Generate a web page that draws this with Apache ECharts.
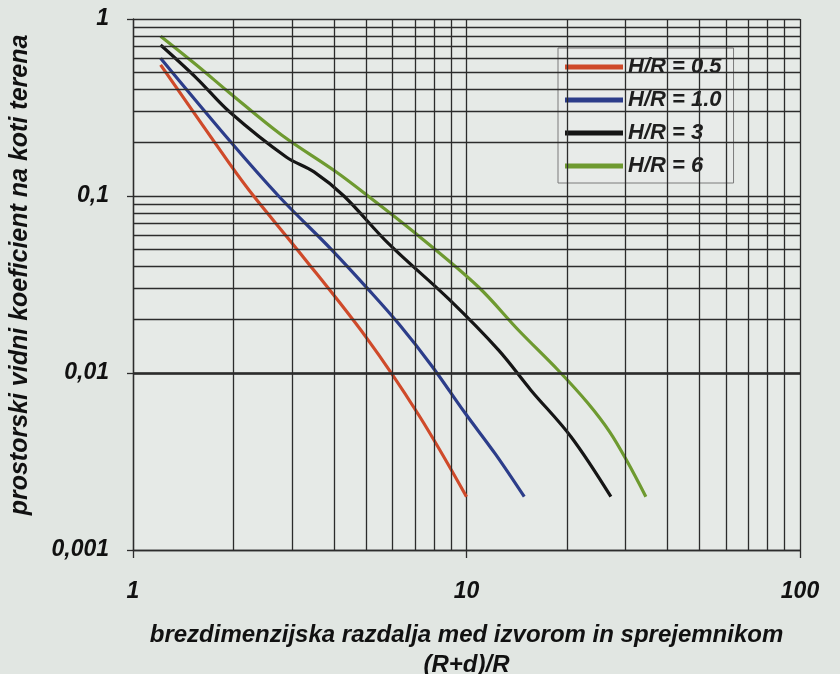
<!DOCTYPE html>
<html>
<head>
<meta charset="utf-8">
<script src="https://cdn.jsdelivr.net/npm/echarts@6/dist/echarts.min.js"></script>
<style>
  html, body { margin: 0; padding: 0; background: #e1e6e2; }
  #chart { width: 840px; height: 674px; }
</style>
</head>
<body>
<div id="chart"></div>
<script>
// ---- data ----
const SERIES_NAMES = ['H/R = 0.5', 'H/R = 1.0', 'H/R = 3', 'H/R = 6'];
const SERIES_COLORS = ['#cf4a2a', '#2c3d8a', '#151515', '#6e9a30'];

const RED_X = [1.21, 1.95, 2.3, 3.15, 4.99, 7.19, 10];
const RED_Y = [0.55, 0.152, 0.1, 0.0483, 0.016, 0.00579, 0.002];

const BLUE_X = [1.21, 1.95, 2.75, 3.95, 5.10, 6.27, 7.86, 9.9, 12.2, 14.9];
const BLUE_Y = [0.60, 0.205, 0.0987, 0.0495, 0.0294, 0.0189, 0.011, 0.00594, 0.00349, 0.002];

const BLACK_X = [1.21, 1.55, 1.95, 2.88, 3.49, 4.29, 5.85, 8.84, 12.46, 15.6, 20.6, 27.1];
const BLACK_Y = [0.713, 0.464, 0.298, 0.166, 0.137, 0.1, 0.0536, 0.0262, 0.0135, 0.0080, 0.00435, 0.002];

const GREEN_X = [1.21, 1.55, 1.95, 2.79, 4.06, 5.10, 7.19, 10.86, 14.3, 18.8, 23.1, 26.9, 30.4, 34.5];
const GREEN_Y = [0.80, 0.55, 0.382, 0.221, 0.137, 0.099, 0.0594, 0.0306, 0.0175, 0.0104, 0.00677, 0.00464, 0.00314, 0.002];

const X_TICKS = [1, 10, 100];
const X_TICK_LABELS = ['1', '10', '100'];
const Y_TICKS = [0.001, 0.01, 0.1, 1];
const Y_TICK_LABELS = ['0,001', '0,01', '0,1', '1'];
const X_MINOR = [2, 3, 4, 5, 6, 7, 8, 9, 20, 30, 40, 50, 60, 70, 80, 90];
const Y_MINOR = [0.002, 0.003, 0.004, 0.005, 0.006, 0.007, 0.008, 0.009,
                 0.02, 0.03, 0.04, 0.05, 0.06, 0.07, 0.08, 0.09,
                 0.2, 0.3, 0.4, 0.5, 0.6, 0.7, 0.8, 0.9];

const X_NAME = 'brezdimenzijska razdalja med izvorom in sprejemnikom\n(R+d)/R';
const Y_NAME = 'prostorski vidni koeficient na koti terena';

// ---- build ----
const FONT = "'Liberation Sans', Arial, sans-serif";
function pairs(xs, ys) { return xs.map((x, i) => [x, ys[i]]); }
function labelFor(ticks, labels) {
  return function (v) {
    const lv = Math.log10(v);
    for (let i = 0; i < ticks.length; i++) {
      if (Math.abs(Math.log10(ticks[i]) - lv) < 1e-6) return labels[i];
    }
    return '';
  };
}
const curves = [pairs(RED_X, RED_Y), pairs(BLUE_X, BLUE_Y), pairs(BLACK_X, BLACK_Y), pairs(GREEN_X, GREEN_Y)];

const gridLineStyle = { color: '#2c2c2c', width: 1.3, type: 'solid' };

const series = [{
  type: 'line',
  name: '_grid',
  data: [],
  silent: true,
  z: 1,
  markLine: {
    silent: true,
    symbol: ['none', 'none'],
    label: { show: false },
    lineStyle: gridLineStyle,
    emphasis: { disabled: true },
    animation: false,
    data: X_MINOR.map(v => ({ xAxis: v })).concat(Y_MINOR.map(v => ({ yAxis: v })))
  }
}].concat(curves.map((d, i) => ({
  type: 'line',
  name: SERIES_NAMES[i],
  data: d,
  showSymbol: false,
  symbol: 'none',
  smooth: 0.35,
  z: 3,
  lineStyle: { color: SERIES_COLORS[i], width: 3.2 },
  itemStyle: { color: SERIES_COLORS[i] }
})));

const chart = echarts.init(document.getElementById('chart'), null, { renderer: 'canvas' });
chart.setOption({
  animation: false,
  backgroundColor: '#e1e6e2',
  grid: {
    left: 133, top: 19, right: 40, bottom: 124,
    outerBoundsMode: 'none',
    containLabel: false,
    show: true, backgroundColor: '#e6eae7', borderWidth: 0
  },
  graphic: [{
    type: 'text',
    x: 20, y: 275,
    rotation: Math.PI / 2,
    silent: true,
    style: {
      text: Y_NAME,
      textAlign: 'center',
      textVerticalAlign: 'middle',
      font: "italic bold 25px 'Liberation Sans', Arial, sans-serif",
      fill: '#111'
    }
  }],
  legend: {
    data: SERIES_NAMES,
    orient: 'vertical',
    left: 558, top: 48,
    backgroundColor: '#e8ebe9',
    borderColor: '#7a7a7a',
    borderWidth: 1,
    padding: [8, 12, 6, 7],
    itemWidth: 58,
    itemHeight: 5,
    itemGap: 11,
    icon: 'rect',
    selectedMode: false,
    textStyle: { fontFamily: FONT, fontSize: 22, fontWeight: 'bold', fontStyle: 'italic', color: '#1e1e1e', lineHeight: 22 }
  },
  xAxis: {
    type: 'log', logBase: 10, min: 1, max: 100,
    name: X_NAME,
    nameLocation: 'middle',
    nameGap: 70,
    nameTextStyle: { fontFamily: FONT, fontSize: 24, fontWeight: 'bold', fontStyle: 'italic', color: '#111', lineHeight: 30 },
    axisLine: { show: true, lineStyle: { color: '#2c2c2c', width: 1.3 } },
    axisTick: { show: true, length: 8, lineStyle: { color: '#2c2c2c', width: 1.3 } },
    axisLabel: {
      margin: 30, fontFamily: FONT, fontSize: 23, fontWeight: 'bold', fontStyle: 'italic', color: '#111',
      formatter: labelFor(X_TICKS, X_TICK_LABELS)
    },
    splitLine: { show: true, lineStyle: gridLineStyle },
    minorTick: { show: false }, minorSplitLine: { show: false }
  },
  yAxis: {
    type: 'log', logBase: 10, min: 0.001, max: 1,
    axisLine: { show: true, lineStyle: { color: '#2c2c2c', width: 1.3 } },
    axisTick: { show: true, length: 6, lineStyle: { color: '#2c2c2c', width: 1.3 } },
    axisLabel: {
      margin: 24, fontFamily: FONT, fontSize: 23, fontWeight: 'bold', fontStyle: 'italic', color: '#111',
      formatter: labelFor(Y_TICKS, Y_TICK_LABELS)
    },
    splitLine: { show: true, lineStyle: gridLineStyle },
    minorTick: { show: false }, minorSplitLine: { show: false }
  },
  series: series
});
</script>
</body>
</html>
